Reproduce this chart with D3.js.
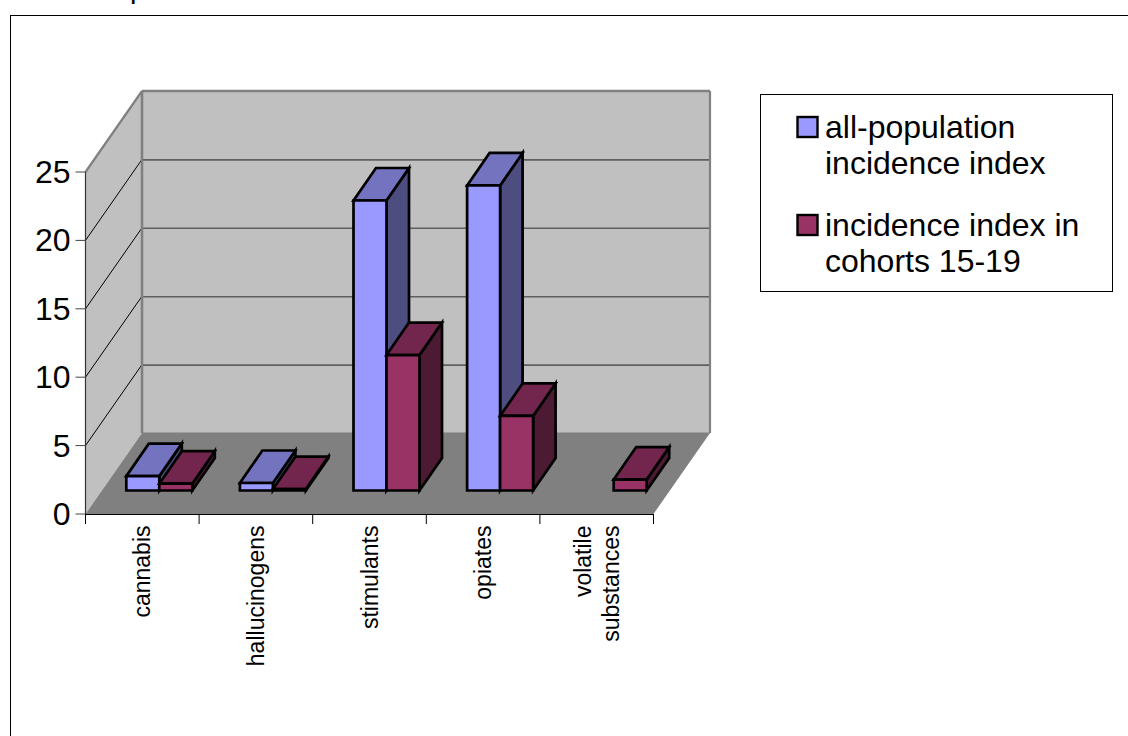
<!DOCTYPE html>
<html>
<head>
<meta charset="utf-8">
<style>
  html, body { margin: 0; padding: 0; background: #fff; overflow: hidden; }
  svg { display: block; }
  text { font-family: "Liberation Sans", Arial, sans-serif; fill: #000; }
</style>
<script src="https://cdn.jsdelivr.net/npm/d3@7/dist/d3.min.js"></script>
</head>
<body>
<svg id="chart" width="1128" height="736"></svg>
<script>
// Drug categories and incidence series
const categories = ["cannabis", "hallucinogens", "stimulants", "opiates", "volatile substances"];
const allPopulation = [1.05, 0.55, 21.2, 22.3, 0];
const cohorts1519 = [0.5, 0.1, 9.9, 5.45, 0.8];
const yTicks = [0, 5, 10, 15, 20, 25];
const seriesNames = ["all-population incidence index", "incidence index in cohorts 15-19"];

const svg = d3.select("#chart");

// Front plane scales
const x = d3.scaleBand().domain(categories).range([85.5, 653.5]).paddingInner(0).paddingOuter(0);
const y = d3.scaleLinear().domain([0, 25]).range([514, 172]);

// Oblique projection: full floor depth, and the depth at which bars sit
const depth = { dx: 56.5, dy: -81 };
const barInset = { dx: 16.8, dy: -23.5 };
const barDepth = { dx: 22.5, dy: -32.5 };
const barWidth = 33;

const poly = pts => pts.map(p => p.join(",")).join(" ");
const x0 = x.range()[0], x1 = x.range()[1];
const back = ([px, py]) => [px + depth.dx, py + depth.dy];

// Outer frame of the chart object, running past the page edges
svg.append("rect").attr("x", 10.5).attr("y", 15.5).attr("width", 1130).attr("height", 740)
  .attr("fill", "#fff").attr("stroke", "#000").attr("stroke-width", 1);

// Tail of a caption line clipped by the page top
svg.append("text").attr("x", 130).attr("y", -2.5).attr("font-size", 29).text("p");

// Walls and floor
const g = svg.append("g");
g.append("polygon")
  .attr("points", poly([back([x0, y(25)]), back([x1, y(25)]), back([x1, y(0)]), back([x0, y(0)])]))
  .attr("fill", "#c0c0c0");
g.append("polygon")
  .attr("points", poly([[x0, y(25)], back([x0, y(25)]), back([x0, y(0)]), [x0, y(0)]]))
  .attr("fill", "#c0c0c0");
g.append("polygon")
  .attr("points", poly([[x0, y(0)], [x1, y(0)], back([x1, y(0)]), back([x0, y(0)])]))
  .attr("fill", "#808080");

// Gridlines across both walls
const gridTicks = yTicks.filter(t => t > 0 && t < 25);
g.selectAll("line.side").data(gridTicks).join("line").attr("class", "side")
  .attr("x1", x0).attr("y1", d => y(d))
  .attr("x2", x0 + depth.dx).attr("y2", d => y(d) + depth.dy)
  .attr("stroke", "#000").attr("stroke-width", 1);
g.selectAll("line.back").data(gridTicks).join("line").attr("class", "back")
  .attr("x1", x0 + depth.dx).attr("y1", d => y(d) + depth.dy + .5)
  .attr("x2", x1 + depth.dx).attr("y2", d => y(d) + depth.dy + .5)
  .attr("stroke", "#5f5f5f").attr("stroke-width", 1.6);

// Wall edges
const edge = (a, b, w) => g.append("line")
  .attr("x1", a[0]).attr("y1", a[1]).attr("x2", b[0]).attr("y2", b[1])
  .attr("stroke", "#808080").attr("stroke-width", w);
edge([x0, y(25)], back([x0, y(25)]), 2.2);
edge(back([x0, y(25)]), back([x1, y(25)]), 2.6);
edge(back([x0, y(25)]), back([x0, y(0)]), 2.6);
edge(back([x1, y(25)]), back([x1, y(0)]), 2.2);
edge(back([x0, y(0)]), back([x1, y(0)]), 1);

// Bars are drawn as three faces: front, right side, top
function drawBar(cat, seriesIndex, value, shades) {
  if (!value) return;
  const left = x(cat) + barInset.dx + 24 + seriesIndex * barWidth;
  const right = left + barWidth;
  const bottom = y(0) + barInset.dy;
  const top = bottom - (y(0) - y(value));
  const bar = svg.append("g").attr("stroke", "#000").attr("stroke-width", 2.7).attr("stroke-linejoin", "miter");
  const d = barDepth;
  bar.append("polygon").attr("fill", shades.side)
    .attr("points", poly([[right, top], [right + d.dx, top + d.dy], [right + d.dx, bottom + d.dy], [right, bottom]]));
  bar.append("polygon").attr("fill", shades.top)
    .attr("points", poly([[left, top], [left + d.dx, top + d.dy], [right + d.dx, top + d.dy], [right, top]]));
  bar.append("polygon").attr("fill", shades.front)
    .attr("points", poly([[left, top], [right, top], [right, bottom], [left, bottom]]));
}
const blue = { front: "#9999ff", top: "#7373bf", side: "#4d4d80" };
const plum = { front: "#993366", top: "#73264d", side: "#4d1a33" };
categories.forEach((c, i) => {
  drawBar(c, 0, allPopulation[i], blue);
  drawBar(c, 1, cohorts1519[i], plum);
});

// Value axis
const yAxis = svg.append("g");
yAxis.append("line").attr("x1", x0).attr("x2", x0).attr("y1", y(25)).attr("y2", y(0)).attr("stroke", "#333").attr("stroke-width", 1.2);
yAxis.selectAll("line.tick").data(yTicks).join("line").attr("class", "tick")
  .attr("x1", x0 - 10).attr("x2", x0).attr("y1", d => y(d)).attr("y2", d => y(d))
  .attr("stroke", "#444").attr("stroke-width", 1);
yAxis.selectAll("text").data(yTicks).join("text")
  .attr("x", x0 - 15).attr("y", d => y(d) + 11)
  .attr("text-anchor", "end").attr("font-size", 32).text(d => d);

// Category axis
const xAxis = svg.append("g");
xAxis.append("line").attr("x1", x0).attr("x2", x1).attr("y1", y(0) + .5).attr("y2", y(0) + .5).attr("stroke", "#000");
const tickXs = categories.map(c => x(c)).concat([x1]);
xAxis.selectAll("line.tick").data(tickXs).join("line").attr("class", "tick")
  .attr("x1", d => d).attr("x2", d => d).attr("y1", y(0)).attr("y2", y(0) + 10)
  .attr("stroke", "#000");
const catLines = [["cannabis"], ["hallucinogens"], ["stimulants"], ["opiates"], ["volatile", "substances"]];
categories.forEach((c, i) => {
  const lines = catLines[i];
  const cx = x(c) + x.bandwidth() / 2;
  lines.forEach((t, j) => {
    const off = (j - (lines.length - 1) / 2) * 28;
    xAxis.append("text")
      .attr("transform", `translate(${cx + off + 8},525.5) rotate(-90)`)
      .attr("text-anchor", "end").attr("font-size", 23).text(t);
  });
});

// Legend
const legend = svg.append("g");
legend.append("rect").attr("x", 760.5).attr("y", 94.5).attr("width", 352).attr("height", 197)
  .attr("fill", "#fff").attr("stroke", "#000");
const legendLines = [["all-population", "incidence index"], ["incidence index in", "cohorts 15-19"]];
const legendY = [138, 236];
seriesNames.forEach((name, i) => {
  const fill = i === 0 ? blue.front : plum.front;
  legend.append("rect").attr("x", 797.5).attr("y", legendY[i] - 21).attr("width", 20).attr("height", 20)
    .attr("fill", fill).attr("stroke", "#000").attr("stroke-width", 2.4);
  legendLines[i].forEach((t, j) => {
    legend.append("text").attr("x", 825).attr("y", legendY[i] + j * 36)
      .attr("font-size", 32).text(t);
  });
});
</script>
</body>
</html>
